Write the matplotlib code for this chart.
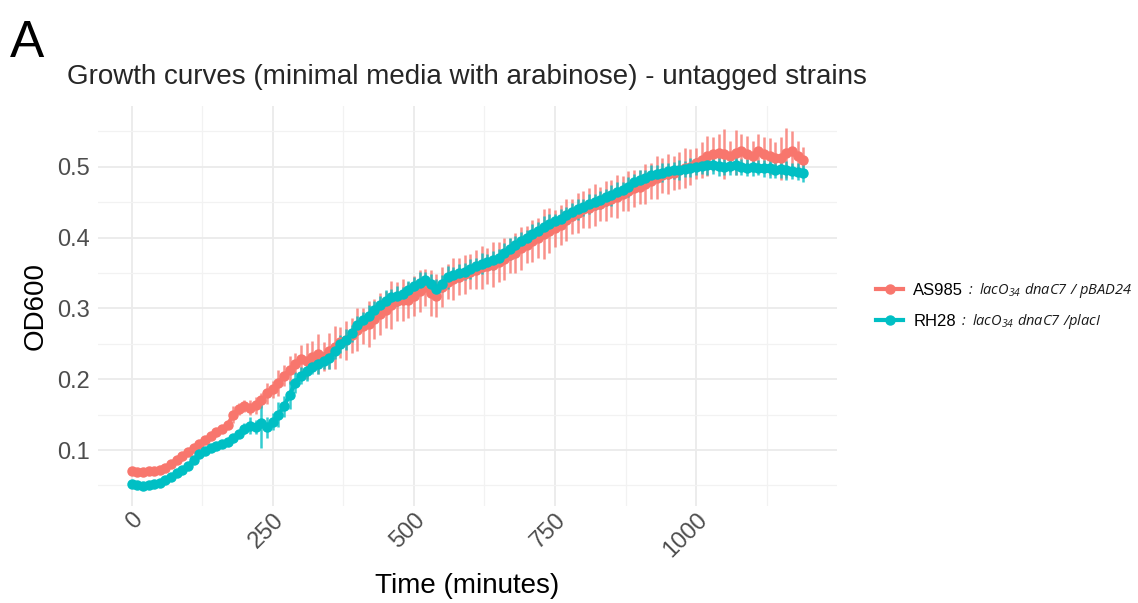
import numpy as np
import matplotlib.pyplot as plt

# sampling times (minutes)
time_min = np.arange(0, 1191, 10)

# mean OD600 per strain
od_as985 = [
    0.070, 0.069, 0.069, 0.070, 0.071, 0.072, 0.075, 0.080, 0.086, 0.092,
    0.097, 0.103, 0.108, 0.114, 0.120, 0.125, 0.130, 0.135, 0.150, 0.158,
    0.162, 0.160, 0.163, 0.170, 0.180, 0.186, 0.195, 0.205, 0.213, 0.222,
    0.228, 0.226, 0.232, 0.236, 0.232, 0.240, 0.245, 0.252, 0.255, 0.262,
    0.270, 0.275, 0.278, 0.285, 0.292, 0.298, 0.305, 0.310, 0.312, 0.312,
    0.318, 0.325, 0.330, 0.322, 0.318, 0.330, 0.338, 0.342, 0.345, 0.348,
    0.352, 0.355, 0.358, 0.360, 0.362, 0.366, 0.370, 0.375, 0.378, 0.385,
    0.390, 0.395, 0.400, 0.405, 0.410, 0.413, 0.418, 0.425, 0.430, 0.435,
    0.440, 0.442, 0.446, 0.448, 0.452, 0.455, 0.458, 0.462, 0.466, 0.470,
    0.472, 0.476, 0.480, 0.485, 0.488, 0.490, 0.492, 0.495, 0.498, 0.500,
    0.505, 0.510, 0.515, 0.518, 0.520, 0.518, 0.515, 0.520, 0.522, 0.518,
    0.515, 0.522, 0.518, 0.515, 0.513, 0.512, 0.520, 0.523, 0.515, 0.510,
]
od_rh28 = [
    0.052, 0.050, 0.049, 0.050, 0.052, 0.054, 0.058, 0.062, 0.067, 0.072,
    0.078, 0.086, 0.094, 0.099, 0.103, 0.106, 0.109, 0.112, 0.117, 0.123,
    0.130, 0.134, 0.133, 0.138, 0.132, 0.140, 0.150, 0.162, 0.178, 0.195,
    0.205, 0.212, 0.218, 0.222, 0.226, 0.230, 0.240, 0.250, 0.256, 0.265,
    0.276, 0.284, 0.290, 0.298, 0.305, 0.310, 0.316, 0.318, 0.320, 0.326,
    0.332, 0.336, 0.340, 0.335, 0.328, 0.335, 0.344, 0.347, 0.350, 0.352,
    0.356, 0.360, 0.363, 0.366, 0.368, 0.372, 0.378, 0.384, 0.390, 0.395,
    0.400, 0.405, 0.410, 0.415, 0.420, 0.423, 0.427, 0.432, 0.436, 0.440,
    0.443, 0.447, 0.450, 0.453, 0.457, 0.460, 0.465, 0.468, 0.472, 0.478,
    0.482, 0.485, 0.488, 0.490, 0.492, 0.494, 0.495, 0.496, 0.497, 0.499,
    0.500, 0.501, 0.502, 0.502, 0.501, 0.500, 0.501, 0.502, 0.500, 0.499,
    0.500, 0.499, 0.498, 0.498, 0.496, 0.497, 0.495, 0.494, 0.493, 0.492,
]

# standard deviation between replicates
sd_as985 = [
    0.003, 0.003, 0.003, 0.003, 0.003, 0.003, 0.003, 0.003, 0.003, 0.003,
    0.003, 0.003, 0.003, 0.003, 0.003, 0.003, 0.003, 0.003, 0.012, 0.008,
    0.008, 0.010, 0.012, 0.010, 0.015, 0.012, 0.018, 0.015, 0.020, 0.015,
    0.020, 0.025, 0.022, 0.028, 0.020, 0.025, 0.030, 0.022, 0.028, 0.025,
    0.030, 0.025, 0.032, 0.028, 0.030, 0.026, 0.034, 0.028, 0.030, 0.025,
    0.028, 0.030, 0.026, 0.032, 0.030, 0.028, 0.025, 0.030, 0.026, 0.028,
    0.025, 0.028, 0.030, 0.026, 0.032, 0.028, 0.030, 0.025, 0.028, 0.030,
    0.026, 0.030, 0.028, 0.035, 0.032, 0.026, 0.028, 0.030, 0.025, 0.028,
    0.026, 0.028, 0.030, 0.024, 0.028, 0.026, 0.030, 0.025, 0.028, 0.026,
    0.024, 0.028, 0.026, 0.030, 0.025, 0.028, 0.024, 0.026, 0.028, 0.025,
    0.022, 0.025, 0.028, 0.024, 0.026, 0.035, 0.022, 0.032, 0.024, 0.026,
    0.022, 0.025, 0.024, 0.026, 0.022, 0.030, 0.035, 0.028, 0.022, 0.018,
]
sd_rh28 = [
    0.003, 0.003, 0.003, 0.003, 0.003, 0.003, 0.003, 0.003, 0.003, 0.003,
    0.003, 0.003, 0.003, 0.003, 0.003, 0.003, 0.003, 0.003, 0.004, 0.005,
    0.008, 0.012, 0.010, 0.035, 0.015, 0.012, 0.018, 0.015, 0.020, 0.015,
    0.012, 0.015, 0.010, 0.014, 0.012, 0.016, 0.011, 0.013, 0.015, 0.012,
    0.014, 0.011, 0.015, 0.012, 0.013, 0.016, 0.012, 0.014, 0.011, 0.013,
    0.012, 0.015, 0.011, 0.013, 0.014, 0.012, 0.016, 0.011, 0.013, 0.012,
    0.014, 0.012, 0.015, 0.011, 0.013, 0.012, 0.014, 0.016, 0.012, 0.013,
    0.011, 0.014, 0.012, 0.015, 0.013, 0.011, 0.014, 0.012, 0.013, 0.015,
    0.012, 0.014, 0.011, 0.013, 0.012, 0.015, 0.013, 0.011, 0.014, 0.012,
    0.013, 0.011, 0.014, 0.012, 0.013, 0.011, 0.012, 0.014, 0.011, 0.013,
    0.012, 0.011, 0.013, 0.012, 0.014, 0.011, 0.012, 0.013, 0.011, 0.012,
    0.013, 0.011, 0.012, 0.014, 0.011, 0.012, 0.013, 0.011, 0.012, 0.013,
]

strains = ["AS985", "RH28"]
genotypes = [r"${:}\ lacO_{34}\ dnaC7\ /\ pBAD24$", r"${:}\ lacO_{34}\ dnaC7\ /placI$"]
colors = ["#F8766D", "#00BFC4"]

x_ticks = [0, 250, 500, 750, 1000]
y_ticks = [0.1, 0.2, 0.3, 0.4, 0.5]

plt.rcParams["font.family"] = ["Liberation Sans", "DejaVu Sans"]
plt.rcParams["mathtext.fontset"] = "custom"
plt.rcParams["mathtext.it"] = "Open Sans:italic"
plt.rcParams["mathtext.rm"] = "Open Sans:italic"

fig = plt.figure(figsize=(11.38, 6.03), dpi=100)
ax = fig.add_axes([0.0861, 0.1609, 0.6494, 0.6633])

series = [(od_as985, sd_as985), (od_rh28, sd_rh28)]
handles = []
for (od, sd), name, col in zip(series, strains, colors):
    ax.errorbar(time_min, od, yerr=sd, fmt="none", ecolor=col,
                elinewidth=1.8, alpha=0.8, zorder=2)
    h, = ax.plot(time_min, od, color=col, lw=3, marker="o", ms=6.5,
                 mec=col, label=name, zorder=3)
    handles.append(h)

ax.set_xlim(-59.5, 1249.5)
ax.set_ylim(0.021, 0.586)
ax.set_xticks(x_ticks)
ax.set_xticks([125, 375, 625, 875, 1125], minor=True)
ax.set_yticks(y_ticks)
ax.set_yticks([0.05, 0.15, 0.25, 0.35, 0.45, 0.55], minor=True)
ax.set_yticklabels([f"{v:g}" for v in y_ticks])

ax.grid(which="major", color="#EBEBEB", lw=1.3)
ax.grid(which="minor", color="#F2F2F2", lw=0.9)
ax.set_axisbelow(True)
for s in ax.spines.values():
    s.set_visible(False)
ax.tick_params(which="both", length=0, colors="#4D4D4D", labelsize=17)
ax.tick_params(axis="y", pad=6)
ax.tick_params(axis="x", pad=2)
for lab in ax.get_xticklabels():
    lab.set_rotation(45)
    lab.set_ha("right")
    lab.set_va("top")
    lab.set_rotation_mode("anchor")

ax.set_xlabel("Time (minutes)", fontsize=20, labelpad=8)
ax.set_ylabel("OD600", fontsize=20, labelpad=6)
ax.set_title("Growth curves (minimal media with arabinose) - untagged strains",
             fontsize=20, loc="left", x=-0.042, pad=16, color="#262626")
fig.text(0.009, 0.905, "A", fontsize=37)

leg = fig.legend(handles=handles, labels=strains, loc="center left",
                 bbox_to_anchor=(0.757, 0.4925), frameon=False, fontsize=12,
                 handlelength=1.6, handletextpad=0.6, labelspacing=0.95)

# genotype text sits right after each legend label
fig.canvas.draw()
inv = fig.transFigure.inverted()
for txt, geno in zip(leg.get_texts(), genotypes):
    bb = txt.get_window_extent()
    x0, y0 = inv.transform((bb.x1 + 3, (bb.y0 + bb.y1) / 2))
    fig.text(x0, y0, geno, fontsize=10.5, va="center", ha="left",
             color="#1A1A1A")

fig.savefig("out.png", dpi=100)
